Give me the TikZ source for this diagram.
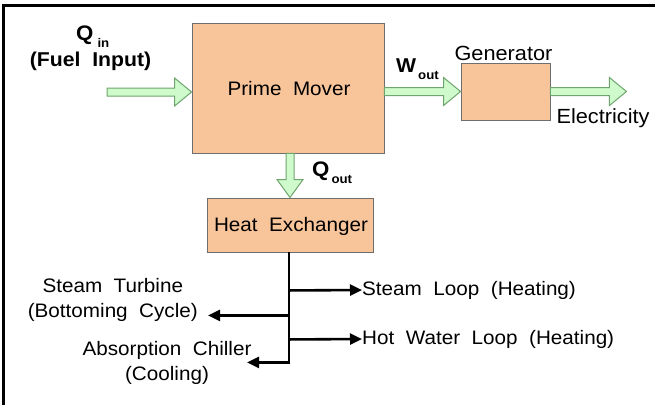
\documentclass[tikz,border=0pt]{standalone}
\usepackage{fontspec}
\setmainfont{Liberation Sans}[WordSpace=2.0, FakeStretch=1.06]
\usetikzlibrary{calc,arrows.meta}
\definecolor{peach}{RGB}{248,196,154}
\definecolor{boxline}{RGB}{110,110,110}
\definecolor{arrowfill}{RGB}{206,250,204}
\definecolor{arrowline}{RGB}{110,165,110}
\tikzset{
  block/.style={draw=boxline, line width=0.9pt, fill=peach, inner sep=0pt},
  fatarrow/.style={draw=arrowline, line width=1pt, fill=arrowfill, line join=miter},
  branch/.style={line width=2.6pt, -{Triangle[length=12pt,width=11pt]}},
  lbl/.style={inner sep=0pt, font=\fontsize{19.5}{25}\selectfont},
  biglbl/.style={inner sep=0pt, font=\fontsize{20.5}{25}\selectfont},
  boldlbl/.style={inner sep=0pt, font=\bfseries\fontsize{20}{24}\selectfont}
}
\newcommand{\hfat}[2]{\draw[fatarrow] ($(#1)+(0,-4)$) -- ($(#2)+(-17,-4)$) -- ($(#2)+(-17,-14)$) -- (#2) -- ($(#2)+(-17,14)$) -- ($(#2)+(-17,4)$) -- ($(#1)+(0,4)$) -- cycle;}
\newcommand{\vfat}[2]{\draw[fatarrow] ($(#1)+(-4,0)$) -- ($(#2)+(-4,-18)$) -- ($(#2)+(-13,-18)$) -- (#2) -- ($(#2)+(13,-18)$) -- ($(#2)+(4,-18)$) -- ($(#1)+(4,0)$) -- cycle;}
\newcommand{\subtxt}[1]{\raisebox{-7.5pt}{\fontsize{12.5}{13}\selectfont #1}}
\begin{document}
\begin{tikzpicture}[x=1pt,y=-1pt]
\useasboundingbox (0,0) rectangle (655,405);
% frame
\draw[line width=3pt] (3.5,405) -- (3.5,5) -- (655,5);
% blocks
\node[block, minimum width=192pt, minimum height=130pt] (pm) at (288,88) {};
\node[lbl, font=\fontsize{19.5}{25}\selectfont] (pmt) at (289,89) {Prime Mover};
\node[block, minimum width=89pt, minimum height=57pt] (gen) at (505.5,91.5) {};
\node[biglbl] (gent) at (503.5,53) {Generator};
\node[block, minimum width=166pt, minimum height=54pt] (hx) at (290,225) {};
\node[lbl] (hxt) at (291,226) {Heat Exchanger};
% fat arrows
\coordinate (qinS) at (107,92);
\coordinate (qinE) at (pm.west |- qinS);
\hfat{qinS}{qinE}
\coordinate (woS) at (pm.east |- gen.west);
\hfat{woS}{gen.west}
\coordinate (elecE) at ($(gen.east)+(76,0)$);
\hfat{gen.east}{elecE}
\coordinate (qoS) at (pm.south -| hx.north);
\vfat{qoS}{hx.north}
% bold labels
\node[boldlbl, font=\bfseries\fontsize{21}{24}\selectfont, anchor=base west] (qin) at (76,40) {Q\hspace{4pt}\subtxt{in}};
\node[boldlbl, anchor=base] (fuel) at (90.5,66) {(Fuel Input)};
\node[boldlbl, anchor=base west] (wout) at (396,72) {W\hspace{2pt}\subtxt{out}};
\node[boldlbl, font=\bfseries\fontsize{21}{24}\selectfont, anchor=base west] (qout) at (312,176) {Q\hspace{2pt}\subtxt{out}};
\node[biglbl] (elec) at (603,118) {Electricity};
% distribution
\coordinate (trunkB) at ($(hx.south)+(-1,110)$);
\coordinate (trunkT) at ($(hx.south)+(-1,0)$);
\coordinate (j1) at ($(trunkT)+(0,38)$);
\coordinate (j2) at ($(trunkT)+(0,63)$);
\coordinate (j3) at ($(trunkT)+(0,87)$);
\draw[line width=2.6pt] (trunkT) -- (trunkB);
\node[lbl, anchor=west] (sl) at (362,290) {Steam Loop (Heating)};
\node[lbl, anchor=west] (hw) at (362,339) {Hot Water Loop (Heating)};
\node[lbl, anchor=east, align=center, inner xsep=10pt] (st) at (208,300) {Steam Turbine\\(Bottoming Cycle)};
\node[lbl, align=center] (ac) at (167,362.5) {Absorption Chiller\\(Cooling)};
\coordinate (acT) at ($(trunkB)+(-42,0)$);
\draw[branch] (j1) -- (sl.west);
\draw[branch] (j3) -- (hw.west);
\draw[branch] (j2) -- (j2 -| st.east);
\draw[line width=2.6pt, line cap=rect] (trunkB) -- ++(-1,0);
\draw[branch] ($(trunkB)+(1.3,0)$) -- (acT);
\end{tikzpicture}
\end{document}
